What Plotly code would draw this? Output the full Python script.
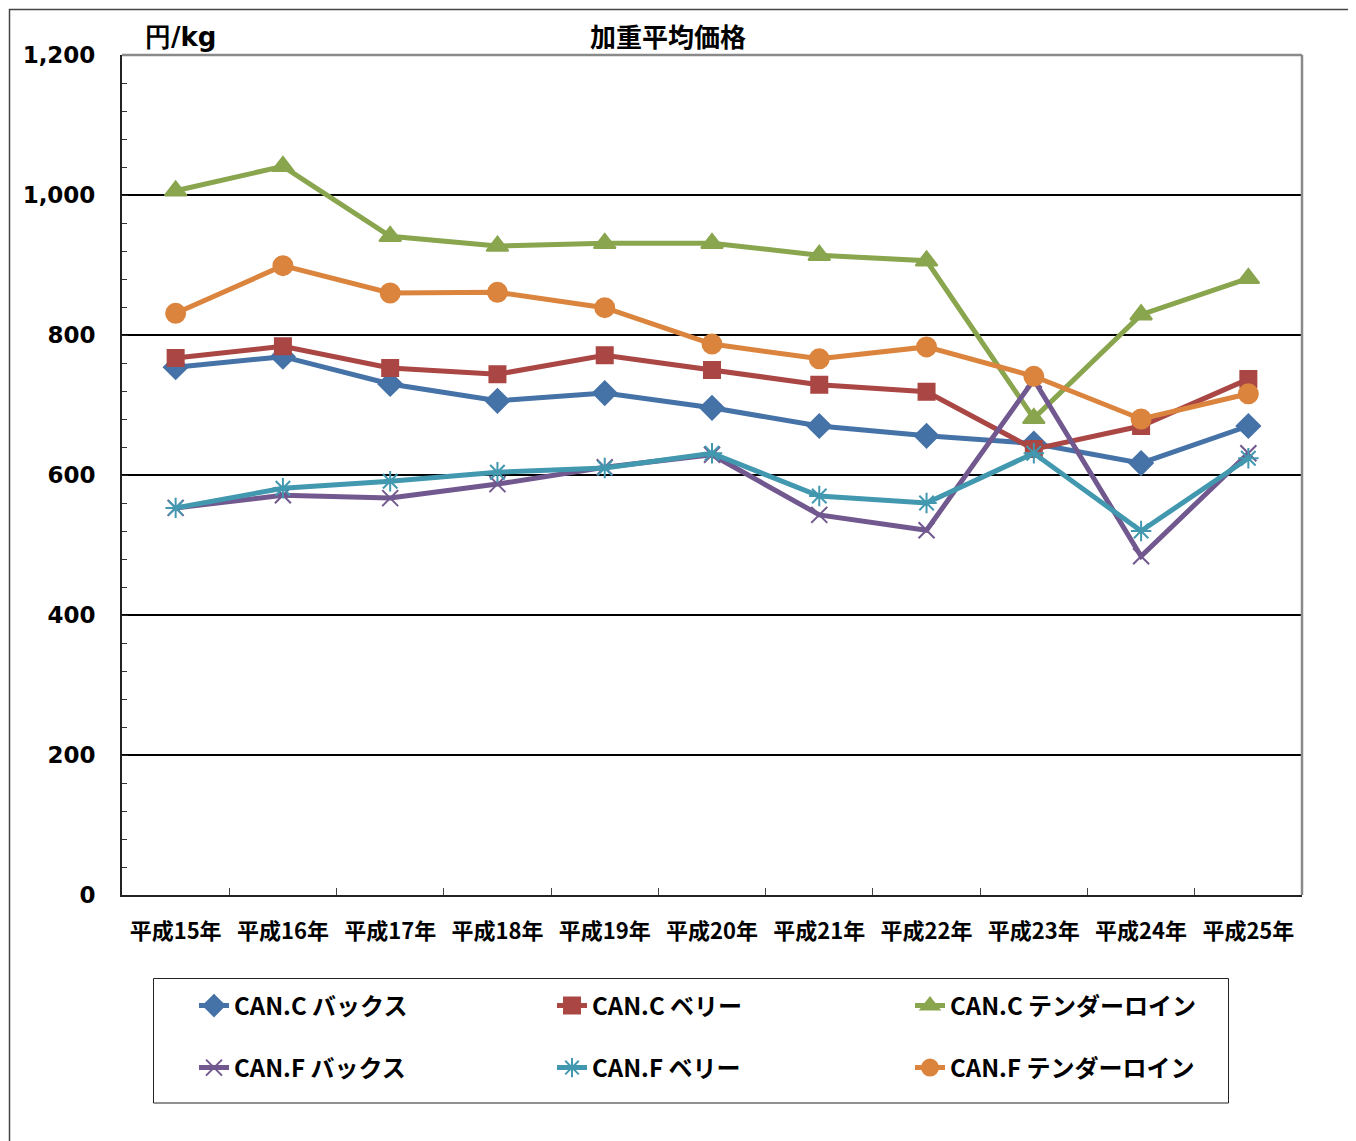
import plotly.graph_objects as go

categories = ["平成15年", "平成16年", "平成17年", "平成18年", "平成19年", "平成20年",
              "平成21年", "平成22年", "平成23年", "平成24年", "平成25年"]

can_c_backs = [754, 769, 730, 706, 717, 696, 670, 656, 645, 617, 670]
can_c_belly = [767, 784, 753, 744, 771, 750, 729, 719, 637, 670, 737]
can_c_tender = [1006, 1041, 941, 927, 931, 931, 914, 906, 681, 829, 881]
can_f_backs = [553, 571, 567, 587, 611, 629, 543, 521, 736, 484, 631]
can_f_belly = [553, 581, 591, 604, 610, 631, 570, 560, 631, 520, 624]
can_f_tender = [831, 899, 860, 861, 839, 787, 766, 783, 741, 680, 716]

y_ticks = [0, 200, 400, 600, 800, 1000, 1200]

series = [
    ("CAN.C バックス", can_c_backs, "#4572A7", "diamond", 18, "legend"),
    ("CAN.C ベリー", can_c_belly, "#AA4643", "square", 16, "legend"),
    ("CAN.C テンダーロイン", can_c_tender, "#89A54E", "triangle-up", 19, "legend"),
    ("CAN.F バックス", can_f_backs, "#71588F", "x-thin-open", 16, "legend2"),
    ("CAN.F ベリー", can_f_belly, "#4198AF", "asterisk-open", 17, "legend2"),
    ("CAN.F テンダーロイン", can_f_tender, "#DB843D", "circle", 19, "legend2"),
]

JP = "Noto Sans CJK JP"
NUM = "DejaVu Sans"

fig = go.Figure()
for name, vals, color, sym, size, lg in series:
    fig.add_trace(go.Scatter(
        x=categories, y=vals, name=name, mode="lines+markers",
        line=dict(color=color, width=5),
        marker=dict(symbol=sym, size=size, color=color,
                    line=dict(color=color, width=2)),
        legend=lg,
    ))

# page body has an 8px margin, so lay out in reference pixels shifted by 8
OFF = 8
W, H = 1356 - OFF, 1141 - OFF
L, R, T, B = 122 - OFF, 54, 55 - OFF, 246
pw, ph = W - L - R, H - T - B


def px_x(p):
    return (p - OFF - L) / pw


def px_y(p):
    return (H - B - (p - OFF)) / ph


legend_common = dict(
    orientation="h", xanchor="left", yanchor="middle",
    x=px_x(194), entrywidth=313, entrywidthmode="pixels",
    font=dict(family=JP, size=24, color="black", weight="bold"),
    bgcolor="rgba(0,0,0,0)", borderwidth=0, itemsizing="trace",
    traceorder="normal",
)

fig.update_layout(
    width=W, height=H,
    margin=dict(l=L, r=R, t=T, b=B, autoexpand=False),
    paper_bgcolor="white", plot_bgcolor="white",
    showlegend=True,
    legend=dict(legend_common, y=px_y(1006)),
    legend2=dict(legend_common, y=px_y(1068)),
    xaxis=dict(
        type="category", range=[-0.5, 10.5],
        showline=True, linecolor="#222", linewidth=2,
        ticks="inside", tickson="boundaries", ticklen=7, tickcolor="#444", tickwidth=1,
        showgrid=False, zeroline=False,
        tickfont=dict(family=JP, size=22, color="black", weight="bold"),
        ticklabelstandoff=16,
    ),
    yaxis=dict(
        range=[0, 1200], tickvals=y_ticks, tickformat=",",
        showline=True, linecolor="#222", linewidth=2,
        ticks="inside", ticklen=6, tickcolor="#222",
        minor=dict(dtick=40, ticks="inside", ticklen=5, tickcolor="#333", showgrid=False),
        showgrid=True, gridcolor="black", gridwidth=1.5, zeroline=False,
        tickfont=dict(family=NUM, size=23, color="black", weight="bold"),
        ticklabelstandoff=20,
    ),
    font=dict(family=JP, color="black"),
)

shapes = []
shapes.append(dict(type="line", xref="paper", yref="paper", x0=0, x1=1, y0=1, y1=1,
                   line=dict(color="#8a8a8a", width=2.5), layer="above"))
shapes.append(dict(type="line", xref="paper", yref="paper", x0=1, x1=1, y0=0, y1=1,
                   line=dict(color="#8a8a8a", width=2.5), layer="above"))
shapes.append(dict(type="rect", xref="paper", yref="paper",
                   x0=px_x(153.5), x1=px_x(1228.5), y0=px_y(1103), y1=px_y(978.5),
                   line=dict(color="#222", width=1), layer="below"))
shapes.append(dict(type="rect", xref="paper", yref="paper",
                   x0=px_x(9.5), x1=px_x(1349.5), y0=px_y(1160), y1=px_y(9.5),
                   line=dict(color="#444", width=1.5), layer="below"))
fig.update_layout(shapes=shapes)

fig.add_annotation(text="加重平均価格", xref="paper", yref="paper",
                   x=px_x(668), y=px_y(35), xanchor="center", yanchor="middle",
                   showarrow=False, font=dict(family=JP, size=26, color="black", weight="bold"))
fig.add_annotation(text="円/kg", xref="paper", yref="paper",
                   x=px_x(180), y=px_y(37), xanchor="center", yanchor="middle",
                   showarrow=False, font=dict(family=NUM, size=26, color="black", weight="bold"))

fig.write_html("out.html")
